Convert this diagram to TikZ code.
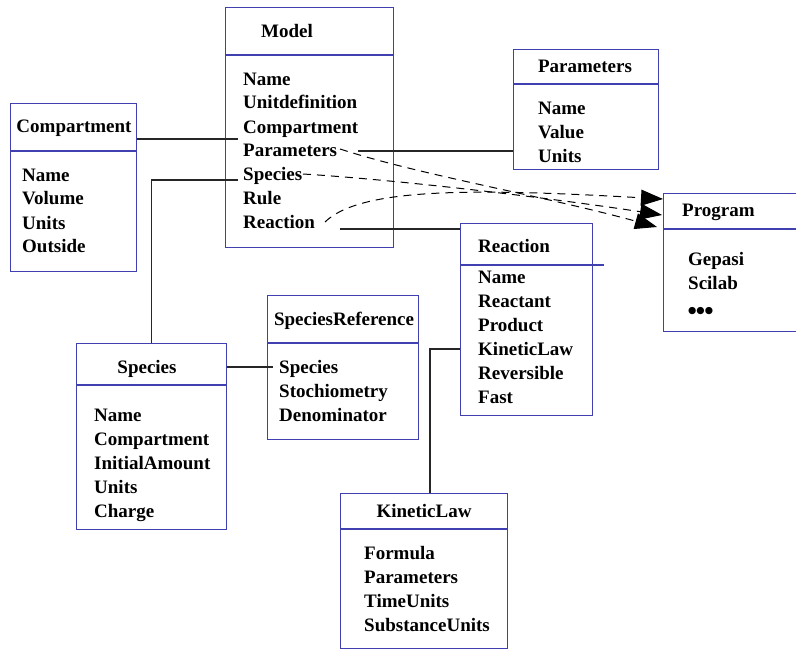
\documentclass[tikz,border=0pt]{standalone}
\usepackage{fontspec}
\setmainfont{Liberation Serif}
\newfontfamily\dotsfont{DejaVu Sans}
\usetikzlibrary{arrows.meta,calc}
\definecolor{umlblue}{RGB}{64,64,176}
\tikzstyle{cls}  = [draw=umlblue, line width=1.2pt, anchor=north west, inner sep=0pt]
\tikzstyle{link} = [line width=1.1pt, black!85]

\begin{document}
\begin{tikzpicture}[x=1pt, y=-1pt,
		font=\fontsize{19}{24}\selectfont\bfseries,
		title/.style={anchor=base, inner sep=0pt},
		attr/.style={anchor=base west, align=left, inner sep=0pt},
		dep/.style={line width=1pt, dash pattern=on 8pt off 6pt, -{Triangle[length=22pt,width=16pt]}},
	]
		\useasboundingbox (0,0) rectangle (796,650);

		% classes (attribute lists are placed at the baseline of their last line)
		\node[cls, minimum width=168, minimum height=240] (model) at (225,7) {};
		\draw[cls] (model.north west) ++(0,48) -- ++(168,0);
		\node[title] (modelt) at (287,38) {Model};
		\node[attr] (modela) at (243,229) {Name\\Unitdefinition\\Compartment\\Parameters\\Species\\Rule\\Reaction};

		\node[cls, minimum width=126, minimum height=168] (comp) at (10,103) {};
		\draw[cls] (comp.north west) ++(0,48) -- ++(126,0);
		\node[title] (compt) at (74,133) {Compartment};
		\node[attr] (compa) at (22,253) {Name\\Volume\\Units\\Outside};

		\node[cls, minimum width=145, minimum height=120] (par) at (513,49) {};
		\draw[cls] (par.north west) ++(0,35) -- ++(145,0);
		\node[title] (part) at (585,73) {Parameters};
		\node[attr] (para) at (538,163) {Name\\Value\\Units};

		\node[cls, minimum width=160, minimum height=138] (prog) at (663,193) {};
		\draw[cls] (prog.north west) ++(0,36) -- ++(160,0);
		\node[title, anchor=base west] (progt) at (682,217) {Program};
		\node[attr] (proga) at (688,313) {Gepasi\\Scilab\\{\dotsfont\fontsize{9.5}{24}\selectfont ●●●}};

		\node[cls, minimum width=132, minimum height=192] (reac) at (460,223) {};
		\draw[cls] (reac.north west) ++(0,42) -- ++(144,0);
		\node[title, anchor=base west] (react) at (478,253) {Reaction};
		\node[attr] (reaca) at (478,403) {Name\\Reactant\\Product\\KineticLaw\\Reversible\\Fast};

		\node[cls, minimum width=151, minimum height=144] (sref) at (267,295) {};
		\draw[cls] (sref.north west) ++(0,48) -- ++(151,0);
		\node[title] (sreft) at (344,325) {SpeciesReference};
		\node[attr] (srefa) at (279,421) {Species\\Stochiometry\\Denominator};

		\node[cls, minimum width=150, minimum height=186] (spec) at (76,343) {};
		\draw[cls] (spec.north west) ++(0,42) -- ++(150,0);
		\node[title] (spect) at (147,373) {Species};
		\node[attr] (speca) at (94,517) {Name\\Compartment\\InitialAmount\\Units\\Charge};

		\node[cls, minimum width=167, minimum height=155] (kin) at (340,493) {};
		\draw[cls] (kin.north west) ++(0,36) -- ++(167,0);
		\node[title] (kint) at (424,517) {KineticLaw};
		\node[attr] (kina) at (364,631) {Formula\\Parameters\\TimeUnits\\SubstanceUnits};

		% link ends
		\coordinate (mComp) at (238,139);
		\coordinate (mSpec) at (238,180);
		\coordinate (mPar) at (358,151);
		\coordinate (mReac) at (340,229);
		\coordinate (srSpec) at (273,367);
		\coordinate (rKin) at (430,349);

		\draw[link] (mComp) -- (mComp -| comp.east);
		\draw[link] (mSpec) -| (spec.north);
		\draw[link] (mPar) -- (mPar -| par.west);
		\draw[link] (mReac) -- (mReac -| reac.west);
		\draw[link] (srSpec) -- (srSpec -| spec.east);
		\draw[link] (rKin -| reac.west) -- (rKin) -- (rKin |- kin.north);

		% dependencies on Program
		\coordinate (dPar) at (340,149);
		\coordinate (dSpec) at (303,174);
		\coordinate (dReac) at (325,222);
		\coordinate (pA) at ($(prog.north west)+(-6,34)$);
		\coordinate (pB) at ($(prog.north west)+(-1,22)$);
		\coordinate (pC) at ($(prog.north west)+(0,6)$);

		\draw[dep] (dPar) .. controls (420,175) and (540,195) .. (pA);
		\draw[dep] (dSpec) .. controls (400,180) and (550,198) .. (pB);
		\draw[dep] (dReac) .. controls (360,188) and (470,188) .. (pC);
	\end{tikzpicture}
\end{document}
